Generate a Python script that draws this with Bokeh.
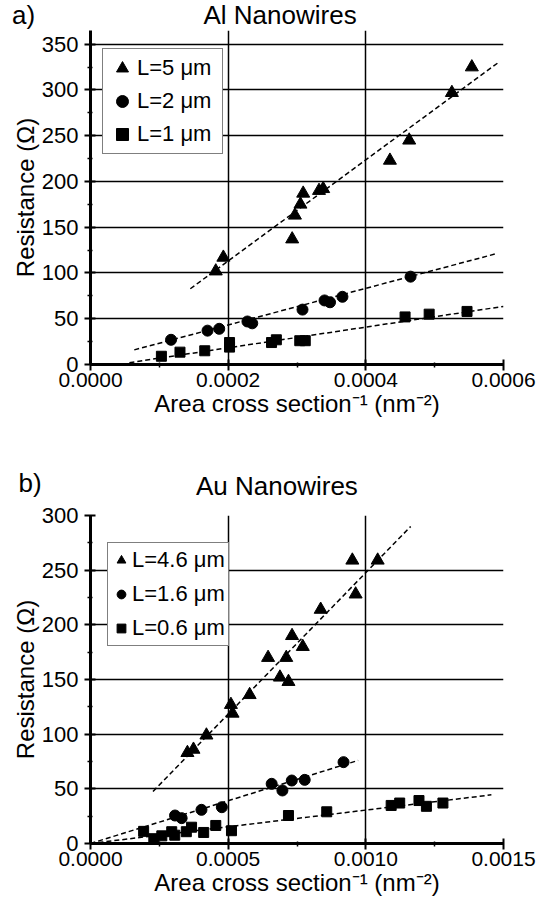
from bokeh.plotting import figure
from bokeh.models import (Range1d, FixedTicker, PrintfTickFormatter, Legend,
                          LegendItem, Div)
from bokeh.layouts import column
from bokeh.embed import file_html
from bokeh.resources import INLINE

FONT = "Liberation Sans"

# ---------------- Panel a) : Al nanowires ----------------
al_title = "Al Nanowires"
al_tag = "a)"
al_labels = ["L=5 μm", "L=2 μm", "L=1 μm"]

al_L5_x = [0.000182, 0.000193, 0.000293, 0.000297, 0.000305, 0.000309,
           0.000332, 0.000338, 0.000435, 0.000463, 0.000525, 0.000554]
al_L5_y = [102, 117, 137, 163, 175, 187, 190, 192, 223, 245, 297, 325]

al_L2_x = [0.000117, 0.000170, 0.000187, 0.000228, 0.000235, 0.000308,
           0.000340, 0.000348, 0.000366, 0.000465]
al_L2_y = [27, 37, 39, 47, 45, 60, 70, 68, 74, 96]

al_L1_x = [0.000103, 0.000130, 0.000166, 0.000202, 0.000202, 0.000263,
           0.000270, 0.000304, 0.000312, 0.000457, 0.000492, 0.000547]
al_L1_y = [9, 13.5, 15, 24, 19, 24, 27, 26, 26, 52, 55, 58]

al_fit_L5_x = [0.000145, 0.000592]
al_fit_L5_y = [82.8, 329.7]
al_fit_L2_x = [0.0000636, 0.000589]
al_fit_L2_y = [16, 121]
al_fit_L1_x = [0.0000565, 0.0006]
al_fit_L1_y = [2, 63.5]

al_x_ticks = [0.0, 0.0002, 0.0004, 0.0006]
al_x_minor = [0.0001, 0.0003, 0.0005]
al_x_grid = [0.0002, 0.0004]
al_y_ticks = [0, 50, 100, 150, 200, 250, 300, 350]
al_y_minor = [25, 75, 125, 175, 225, 275, 325]
al_y_grid = [50, 100, 150, 200, 250, 300, 350]

# ---------------- Panel b) : Au nanowires ----------------
au_title = "Au Nanowires"
au_tag = "b)"
au_labels = ["L=4.6 μm", "L=1.6 μm", "L=0.6 μm"]

au_L46_x = [0.000352, 0.000374, 0.000421, 0.000510, 0.000516, 0.000578,
            0.000645, 0.000688, 0.000711, 0.000719, 0.000732, 0.000771,
            0.000836, 0.000951, 0.000963, 0.001043]
au_L46_y = [83, 86, 99, 127, 119, 136, 170, 152, 170, 148, 190, 180,
            214, 259, 228, 259]

au_L16_x = [0.000307, 0.000331, 0.000403, 0.000477, 0.000658, 0.000697,
            0.000731, 0.000778, 0.000919]
au_L16_y = [25.6, 23.2, 30.8, 33.2, 54.6, 48.5, 57.6, 58.2, 74.4]

au_L06_x = [0.000193, 0.000230, 0.000259, 0.000295, 0.000306, 0.000348,
            0.000367, 0.000411, 0.000455, 0.000512, 0.000719, 0.000858,
            0.001092, 0.001123, 0.001193, 0.001220, 0.001280]
au_L06_y = [11.1, 4.4, 7.0, 10.8, 7.6, 10.8, 14.9, 10.1, 16.5, 11.7,
            25.6, 29, 34.8, 37, 39.3, 34, 37]

au_fit_L46_x = [0.000227, 0.001163]
au_fit_L46_y = [47.6, 290]
au_fit_L16_x = [0.0, 0.000972]
au_fit_L16_y = [0, 76]
au_fit_L06_x = [0.0, 0.001456]
au_fit_L06_y = [0, 44.5]

au_x_ticks = [0.0, 0.0005, 0.0010, 0.0015]
au_x_minor = [0.00025, 0.00075, 0.00125]
au_x_grid = [0.0005, 0.0010]
au_y_ticks = [0, 50, 100, 150, 200, 250, 300]
au_y_minor = [25, 75, 125, 175, 225, 275]
au_y_grid = [50, 100, 150, 200, 250]

x_label = "Area cross section⁻¹ (nm⁻²)"
y_label = "Resistance (Ω)"


def style_axes(p, xt, xm, xg, yt, ym, yg):
    p.xaxis.ticker = FixedTicker(ticks=xt, minor_ticks=xm)
    p.xaxis.formatter = PrintfTickFormatter(format="%.4f")
    p.yaxis.ticker = FixedTicker(ticks=yt, minor_ticks=ym)
    p.xgrid.ticker = FixedTicker(ticks=xg)
    p.ygrid.ticker = FixedTicker(ticks=yg)
    for g in (p.xgrid, p.ygrid):
        g.grid_line_color = "black"
        g.grid_line_width = 1.5
        g.grid_line_alpha = 1.0
    for ax in (p.xaxis, p.yaxis):
        ax.axis_line_width = 3
        ax.axis_line_color = "black"
        ax.major_tick_line_width = 2
        ax.minor_tick_line_width = 1.5
        ax.major_tick_line_color = "black"
        ax.minor_tick_line_color = "black"
        ax.major_tick_in = 5
        ax.major_tick_out = 6
        ax.minor_tick_in = 2
        ax.minor_tick_out = 3
        ax.major_label_text_font = FONT
        ax.major_label_text_color = "black"
        ax.axis_label_text_font = FONT
        ax.axis_label_text_font_size = "24px"
        ax.axis_label_text_font_style = "normal"
        ax.axis_label_text_color = "black"
    p.xaxis.major_label_text_font_size = "21px"
    p.yaxis.major_label_text_font_size = "22px"
    p.xaxis.major_label_standoff = 2
    p.yaxis.major_label_standoff = 6
    p.xaxis.axis_label = x_label
    p.yaxis.axis_label = y_label
    p.xaxis.axis_label_standoff = 0
    p.yaxis.axis_label_standoff = 0


def make_panel(height, bt, bb, xmax, ymax):
    p = figure(width=541, height=height, output_backend="svg",
               toolbar_location=None, title=None,
               x_range=Range1d(0, xmax), y_range=Range1d(0, ymax),
               min_border_left=90, min_border_right=38,
               min_border_top=bt, min_border_bottom=bb)
    p.outline_line_color = None
    p.background_fill_color = "white"
    p.border_fill_color = "white"
    return p


def add_series(p, series, fits, labels, sizes, loc, gw, pad, spacing, lw):
    for (fx, fy) in fits:
        p.line(fx, fy, line_color="black", line_width=1.5, line_dash="5 3")
    rend = []
    for (x, y), m, s in zip(series, ["triangle", "circle", "square"], sizes):
        rend.append(p.scatter(x, y, marker=m, size=s, color="black"))
    legend = Legend(items=[LegendItem(label=l, renderers=[r])
                           for l, r in zip(labels, rend)],
                    location=loc)
    legend.glyph_width = gw
    legend.glyph_height = 30
    legend.label_height = 30
    legend.spacing = spacing
    legend.padding = pad
    legend.margin = 0
    legend.label_standoff = 0
    legend.label_width = lw
    legend.label_text_font = FONT
    legend.label_text_font_size = "22px"
    legend.label_text_color = "black"
    legend.border_line_color = "black"
    legend.border_line_width = 1.5
    legend.background_fill_color = "white"
    legend.background_fill_alpha = 1.0
    p.add_layout(legend)


def heading(height, tag, tag_pos, title, title_pos):
    def span(txt, pos, fs):
        return ('<span style="position:absolute;left:%spx;top:%spx;'
                'font-size:%dpx;line-height:%dpx;white-space:nowrap;">%s</span>'
                % (pos[0], pos[1], fs, fs, txt))
    html = ('<div style="position:relative;width:541px;height:%dpx;'
            "font-family:'Liberation Sans',Arial,sans-serif;color:black;\">"
            % height) + span(tag, tag_pos, 26) + span(title, title_pos, 26) + '</div>'
    return Div(text=html, width=541, height=height, margin=0)


# heading a)
d1 = heading(30, al_tag, (12, 1.5), al_title, (203.5, 2.4))

# Panel a
p1 = make_panel(398, 0, 64, 0.0006, 365)
style_axes(p1, al_x_ticks, al_x_minor, al_x_grid, al_y_ticks, al_y_minor, al_y_grid)
add_series(p1, [(al_L5_x, al_L5_y), (al_L2_x, al_L2_y), (al_L1_x, al_L1_y)],
           [(al_fit_L5_x, al_fit_L5_y), (al_fit_L2_x, al_fit_L2_y),
            (al_fit_L1_x, al_fit_L1_y)],
           al_labels, [13, 11, 10], (12, 210), 30, 4, 3, 81)

# heading b)
d2 = heading(73, au_tag, (18.5, 42), au_title, (196, 45))

# Panel b
p2 = make_panel(399, 14, 57, 0.0015, 300)
style_axes(p2, au_x_ticks, au_x_minor, au_x_grid, au_y_ticks, au_y_minor, au_y_grid)
add_series(p2, [(au_L46_x, au_L46_y), (au_L16_x, au_L16_y), (au_L06_x, au_L06_y)],
           [(au_fit_L46_x, au_fit_L46_y), (au_fit_L16_x, au_fit_L16_y),
            (au_fit_L06_x, au_fit_L06_y)],
           au_labels, [13, 11, 10], (17, 197), 22, 2, 4, 94)

layout = column(d1, p1, d2, p2)
open("out.html", "w").write(file_html(layout, INLINE))
